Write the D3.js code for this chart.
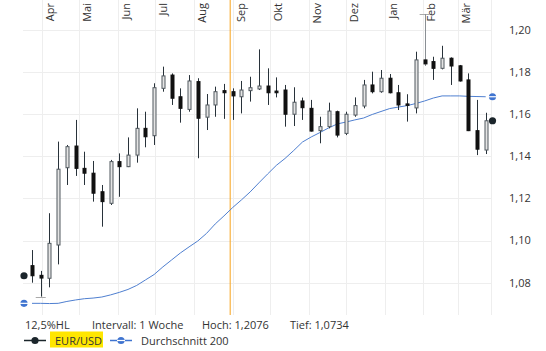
<!DOCTYPE html>
<html>
<head>
<meta charset="utf-8">
<script src="https://cdn.jsdelivr.net/npm/d3@7"></script>
<style>
  body { margin: 0; background: #fff; }
  text { font-family: "Open Sans", "Noto Sans", sans-serif; fill: #333; }
</style>
</head>
<body>
<div id="chart"></div>
<script>
(function(){

// weekly candles, EUR/USD
var weeks = ["2025-03-24","2025-03-31","2025-04-07","2025-04-14","2025-04-21","2025-04-28",
  "2025-05-05","2025-05-12","2025-05-19","2025-05-26","2025-06-02","2025-06-09","2025-06-16",
  "2025-06-23","2025-06-30","2025-07-07","2025-07-14","2025-07-21","2025-07-28","2025-08-04",
  "2025-08-11","2025-08-18","2025-08-25","2025-09-01","2025-09-08","2025-09-15","2025-09-22",
  "2025-09-29","2025-10-06","2025-10-13","2025-10-20","2025-10-27","2025-11-03","2025-11-10",
  "2025-11-17","2025-11-24","2025-12-01","2025-12-08","2025-12-15","2025-12-22","2025-12-29",
  "2026-01-05","2026-01-12","2026-01-19","2026-01-26","2026-02-02","2026-02-09","2026-02-16",
  "2026-02-23","2026-03-02","2026-03-09","2026-03-16","2026-03-23"];

var open  = [1.0881,1.0835,1.0821,1.0979,1.1346,1.1449,1.1343,1.1320,1.1232,1.1177,1.1375,1.1351,1.1406,
             1.1533,1.1498,1.1723,1.1786,1.1683,1.1623,1.1755,1.1586,1.1644,1.1712,1.1707,1.1683,1.1712,
             1.1720,1.1734,1.1710,1.1715,1.1600,1.1663,1.1628,1.1522,1.1541,1.1612,1.1509,1.1596,1.1639,
             1.1739,1.1707,1.1771,1.1702,1.1649,1.1630,1.1858,1.1850,1.1818,1.1866,1.1830,1.1763,1.1522,1.1430];
var high  = [1.0955,1.0856,1.1130,1.1470,1.1454,1.1573,1.1422,1.1378,1.1264,1.1383,1.1414,1.1490,1.1628,
             1.1612,1.1747,1.1826,1.1794,1.1723,1.1786,1.1771,1.1696,1.1731,1.1744,1.1723,1.1758,1.1778,
             1.1908,1.1818,1.1775,1.1739,1.1728,1.1679,1.1668,1.1588,1.1655,1.1617,1.1612,1.1680,1.1763,
             1.1802,1.1810,1.1791,1.1739,1.1695,1.1897,1.2076,1.1873,1.1925,1.1870,1.1834,1.1794,1.1668,1.1607];
var low   = [1.0800,1.0734,1.0778,1.0887,1.1264,1.1307,1.1264,1.1185,1.1066,1.1169,1.1208,1.1349,1.1370,
             1.1443,1.1454,1.1707,1.1644,1.1560,1.1612,1.1391,1.1525,1.1588,1.1578,1.1573,1.1604,1.1660,
             1.1715,1.1644,1.1680,1.1541,1.1544,1.1573,1.1518,1.1462,1.1533,1.1490,1.1501,1.1588,1.1628,
             1.1699,1.1702,1.1699,1.1620,1.1565,1.1604,1.1829,1.1763,1.1813,1.1739,1.1755,1.1520,1.1406,1.1411];
var close = [1.0833,1.0822,1.0987,1.1339,1.1446,1.1343,1.1320,1.1225,1.1185,1.1375,1.1351,1.1406,1.1533,
             1.1493,1.1726,1.1782,1.1676,1.1628,1.1758,1.1581,1.1644,1.1707,1.1702,1.1687,1.1715,1.1726,
             1.1734,1.1702,1.1702,1.1600,1.1657,1.1631,1.1520,1.1541,1.1615,1.1501,1.1600,1.1641,1.1739,
             1.1707,1.1771,1.1702,1.1644,1.1642,1.1858,1.1839,1.1818,1.1866,1.1829,1.1758,1.1522,1.1434,1.1569];

// Durchschnitt 200
var ma200 = [1.0702,1.0702,1.0701,1.0702,1.0711,1.0718,1.0724,1.0727,1.0732,1.0742,1.0754,1.0768,1.0787,
             1.0813,1.0839,1.0875,1.0908,1.0941,1.0970,1.0998,1.1034,1.1079,1.1117,1.1157,1.1193,1.1231,
             1.1274,1.1316,1.1357,1.1390,1.1428,1.1468,1.1492,1.1513,1.1535,1.1554,1.1563,1.1573,1.1582,
             1.1599,1.1613,1.1627,1.1634,1.1641,1.1651,1.1663,1.1677,1.1687,1.1687,1.1687,1.1685,1.1684,1.1683];

var monthLabels = ["Apr","Mai","Jun","Jul","Aug","Sep","Okt","Nov","Dez","Jan","Feb","Mär"];
var yTicks = [1.08, 1.10, 1.12, 1.14, 1.16, 1.18, 1.20];
var infoTexts = ["12,5%HL", "Intervall: 1 Woche", "Hoch: 1,2076", "Tief: 1,0734"];
var markerDate = "2025-08-30";
var hochIdx = 45, tiefIdx = 1;

var width = 546, height = 351;
var plot = {left: 23, right: 491, top: 0, bottom: 315};

var parse = d3.timeParse("%Y-%m-%d");
var dates = weeks.map(parse);
var data = dates.map(function(d, i) {
  return {date: d, o: open[i], h: high[i], l: low[i], c: close[i], ma: ma200[i]};
});

var svg = d3.select("#chart")
  .append("svg")
    .attr("width", width)
    .attr("height", height);

var x = d3.scaleTime()
          .domain([dates[0], dates[dates.length - 1]])
          .range([32, 485.7]);

var y = d3.scaleLinear()
          .domain([1.08, 1.20])
          .range([282.7, 30]);

// grid
var months = d3.timeMonth.range(new Date(2025, 3, 1), new Date(2026, 3, 1));

svg.append("g").selectAll("line")
    .data(months).enter()
    .append("line")
      .attr("x1", function(d) { return Math.round(x(d)) + 0.5; })
      .attr("x2", function(d) { return Math.round(x(d)) + 0.5; })
      .attr("y1", plot.top)
      .attr("y2", plot.bottom)
      .attr("stroke", "#eeeeee");

svg.append("line")
    .attr("x1", plot.right + 0.5).attr("x2", plot.right + 0.5)
    .attr("y1", plot.top).attr("y2", plot.bottom)
    .attr("stroke", "#eeeeee");

svg.append("g").selectAll("line")
    .data(yTicks).enter()
    .append("line")
      .attr("x1", plot.left)
      .attr("x2", plot.right)
      .attr("y1", function(d) { return Math.round(y(d)) + 0.5; })
      .attr("y2", function(d) { return Math.round(y(d)) + 0.5; })
      .attr("stroke", "#eeeeee");

// month labels, rotated
svg.append("g").selectAll("text")
    .data(months).enter()
    .append("text")
      .attr("transform", function(d) {
        return "translate(" + (x(d) + 12) + ",3) rotate(-90)";
      })
      .attr("text-anchor", "end")
      .attr("font-size", "11px")
      .text(function(d, i) { return monthLabels[i]; });

// y labels on the right
svg.append("g").selectAll("text")
    .data(yTicks).enter()
    .append("text")
      .attr("x", 509)
      .attr("y", function(d) { return y(d); })
      .attr("dy", "0.35em")
      .attr("font-size", "11px")
      .text(function(d) { return d3.format(".2f")(d).replace(".", ","); });

// orange marker line
svg.append("line")
    .attr("x1", x(parse(markerDate)))
    .attr("x2", x(parse(markerDate)))
    .attr("y1", plot.top)
    .attr("y2", plot.bottom)
    .attr("stroke", "#f7a21b")
    .attr("stroke-width", 1);

// moving average
var line = d3.line()
  .x(function(d) { return x(d.date); })
  .y(function(d) { return y(d.ma); });

svg.append("path")
    .datum(data)
    .attr("d", line)
    .attr("fill", "none")
    .attr("stroke", "#4f7fd0")
    .attr("stroke-width", 1);

// hoch / tief ticks
[[hochIdx, high[hochIdx]], [tiefIdx, low[tiefIdx]]].forEach(function(p) {
  var cx = x(dates[p[0]]);
  svg.append("line")
      .attr("x1", cx - 5).attr("x2", cx + 5)
      .attr("y1", Math.round(y(p[1])) + 0.5).attr("y2", Math.round(y(p[1])) + 0.5)
      .attr("stroke", "#aaaaaa");
});

// candles
var candles = svg.append("g").selectAll("g")
    .data(data).enter()
    .append("g");

candles.append("line")
    .attr("x1", function(d) { return Math.round(x(d.date)) + 0.5; })
    .attr("x2", function(d) { return Math.round(x(d.date)) + 0.5; })
    .attr("y1", function(d) { return y(d.h); })
    .attr("y2", function(d) { return y(d.l); })
    .attr("stroke", function(d, i) { return i == hochIdx ? "#8a8f94" : "#28323a"; });

candles.append("rect")
    .attr("x", function(d) { return Math.round(x(d.date)) - 1; })
    .attr("width", 3)
    .attr("y", function(d) { return y(Math.max(d.o, d.c)); })
    .attr("height", function(d) { return Math.max(1, Math.abs(y(d.o) - y(d.c))); })
    .attr("fill", function(d) { return d.c >= d.o ? "#e4e4e4" : "#111111"; })
    .attr("stroke", function(d) { return d.c >= d.o ? "#50585e" : "#111111"; })
    .attr("stroke-width", 1);

// edge markers
function dot(g, cx, cy) {
  g.append("circle").attr("cx", cx).attr("cy", cy).attr("r", 3.6).attr("fill", "#1b252b");
}
function maMarker(g, cx, cy) {
  g.append("circle").attr("cx", cx).attr("cy", cy).attr("r", 3.6).attr("fill", "#3f74d0");
  g.append("line").attr("x1", cx - 4).attr("x2", cx + 4).attr("y1", cy).attr("y2", cy)
    .attr("stroke", "#fff").attr("stroke-width", 1.2);
}
var first = data[0], last = data[data.length - 1];
dot(svg, 24, y(first.c));
maMarker(svg, 24, y(first.ma));
dot(svg, 492.5, y(last.c));
maMarker(svg, 492.5, y(last.ma));

// info line
var infoX = [25, 92, 202, 290];
svg.append("g").selectAll("text")
    .data(infoTexts).enter()
    .append("text")
      .attr("x", function(d, i) { return infoX[i]; })
      .attr("y", 329)
      .attr("font-size", "11px")
      .text(function(d) { return d; });

// legend
var lg = svg.append("g");
lg.append("line").attr("x1", 24).attr("x2", 46).attr("y1", 340.5).attr("y2", 340.5)
  .attr("stroke", "#1b252b").attr("stroke-width", 1.5);
dot(lg, 35, 340.5);
lg.append("rect").attr("x", 50).attr("y", 331.5).attr("width", 53).attr("height", 16)
  .attr("fill", "#ffe600");
lg.append("text").attr("x", 55).attr("y", 344.5).attr("font-size", "11px").text("EUR/USD");
lg.append("line").attr("x1", 110).attr("x2", 132).attr("y1", 340.5).attr("y2", 340.5)
  .attr("stroke", "#3f74d0").attr("stroke-width", 1.5);
maMarker(lg, 121, 340.5);
lg.append("text").attr("x", 141).attr("y", 344.5).attr("font-size", "11px").text("Durchschnitt 200");

})()
</script>
</body>
</html>
